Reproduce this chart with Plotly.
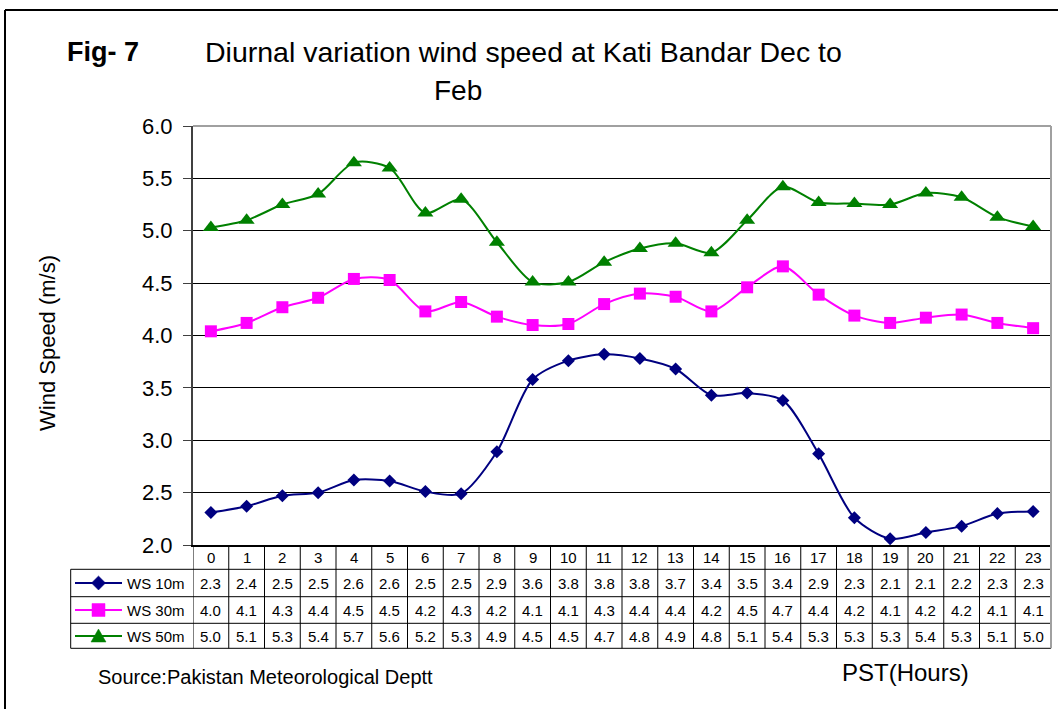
import plotly.graph_objects as go

# ---------------- data ----------------
hours = list(range(24))
hour_labels = [str(h) for h in hours]
series_names = ["WS 10m", "WS 30m", "WS 50m"]
ws10 = [2.31, 2.37, 2.47, 2.50, 2.62, 2.61, 2.51, 2.49, 2.89, 3.58, 3.76, 3.82,
        3.78, 3.68, 3.43, 3.45, 3.38, 2.87, 2.26, 2.06, 2.12, 2.18, 2.30, 2.32]
ws30 = [4.04, 4.12, 4.27, 4.36, 4.54, 4.53, 4.23, 4.32, 4.18, 4.10, 4.11, 4.30,
        4.40, 4.37, 4.23, 4.46, 4.66, 4.39, 4.19, 4.12, 4.17, 4.20, 4.12, 4.07]
ws50 = [5.03, 5.10, 5.25, 5.35, 5.65, 5.60, 5.17, 5.30, 4.89, 4.51, 4.51, 4.70,
        4.83, 4.88, 4.79, 5.10, 5.42, 5.27, 5.26, 5.25, 5.36, 5.32, 5.13, 5.04]
table10 = [2.3, 2.4, 2.5, 2.5, 2.6, 2.6, 2.5, 2.5, 2.9, 3.6, 3.8, 3.8,
           3.8, 3.7, 3.4, 3.5, 3.4, 2.9, 2.3, 2.1, 2.1, 2.2, 2.3, 2.3]
table30 = [4.0, 4.1, 4.3, 4.4, 4.5, 4.5, 4.2, 4.3, 4.2, 4.1, 4.1, 4.3,
           4.4, 4.4, 4.2, 4.5, 4.7, 4.4, 4.2, 4.1, 4.2, 4.2, 4.1, 4.1]
table50 = [5.0, 5.1, 5.3, 5.4, 5.7, 5.6, 5.2, 5.3, 4.9, 4.5, 4.5, 4.7,
           4.8, 4.9, 4.8, 5.1, 5.4, 5.3, 5.3, 5.3, 5.4, 5.3, 5.1, 5.0]
y_ticks = [2.0, 2.5, 3.0, 3.5, 4.0, 4.5, 5.0, 5.5, 6.0]

title_fig = "Fig- 7"
title_main = "Diurnal variation wind speed at Kati Bandar Dec to"
title_line2 = "Feb"
y_title = "Wind Speed (m/s)"
x_title = "PST(Hours)"
source_text = "Source:Pakistan Meteorological Deptt"

# ---------------- styling / layout ----------------
W, H = 1058, 709
L, R, T, B = 193, 1051, 126, 545
PW, PH = R - L, B - T
FONT = "Liberation Sans, Arial, sans-serif"

colors = ["#000080", "#FF00FF", "#008000"]
symbols = ["diamond", "square", "triangle-up"]
msizes = [10, 12, 14]
values = [ws10, ws30, ws50]
tables = [table10, table30, table50]


def pxx(px):
    return (px - L) / PW


def pxy(py):
    return (B - py) / PH


fig = go.Figure()

for name, vals, c, s, ms in zip(series_names, values, colors, symbols, msizes):
    fig.add_trace(go.Scatter(
        x=hours, y=vals, name=name, mode="lines+markers",
        line=dict(color=c, width=2, shape="spline", smoothing=0.8),
        marker=dict(symbol=s, size=ms, color=c),
        showlegend=False, cliponaxis=False,
    ))

# table geometry (pixels)
row_lines = [569.3, 596.7, 623.3, 648.3]
row_centers = [583, 610, 636]
leg_left = 70.7

shapes = []
line_blk = dict(color="#000000", width=1)
for i in range(24):
    shapes.append(dict(type="line", xref="x", yref="paper",
                       x0=i - 0.5, x1=i - 0.5, y0=pxy(B), y1=pxy(row_lines[-1]),
                       line=line_blk))
for yl in row_lines:
    shapes.append(dict(type="line", xref="paper", yref="paper",
                       x0=pxx(leg_left), x1=pxx(R), y0=pxy(yl), y1=pxy(yl),
                       line=line_blk))
shapes.append(dict(type="line", xref="paper", yref="paper",
                   x0=pxx(leg_left), x1=pxx(leg_left),
                   y0=pxy(row_lines[0]), y1=pxy(row_lines[-1]), line=line_blk))
# plot area gray border (top & right)
shapes.append(dict(type="line", xref="paper", yref="paper",
                   x0=pxx(L), x1=pxx(R), y0=1, y1=1,
                   line=dict(color="#a0a0a0", width=2)))
shapes.append(dict(type="line", xref="paper", yref="paper",
                   x0=1, x1=1, y0=1, y1=pxy(row_lines[-1]),
                   line=dict(color="#a0a0a0", width=2)))
# outer frame (top and left visible)
shapes.append(dict(type="line", xref="paper", yref="paper",
                   x0=pxx(5), x1=pxx(W + 10), y0=pxy(10), y1=pxy(10),
                   line=dict(color="#000000", width=2)))
shapes.append(dict(type="line", xref="paper", yref="paper",
                   x0=pxx(5), x1=pxx(5), y0=pxy(10), y1=pxy(H + 10),
                   line=dict(color="#000000", width=2)))


def poly_path(pts):
    return "M " + " L ".join(f"{pxx(a):.5f},{pxy(b):.5f}" for a, b in pts) + " Z"


# legend samples: line + marker glyph
mx = 98.5
for c, s, yc in zip(colors, symbols, row_centers):
    shapes.append(dict(type="line", xref="paper", yref="paper",
                       x0=pxx(75), x1=pxx(122), y0=pxy(yc), y1=pxy(yc),
                       line=dict(color=c, width=2)))
    if s == "diamond":
        pts = [(mx, yc - 7), (mx + 7, yc), (mx, yc + 7), (mx - 7, yc)]
    elif s == "square":
        pts = [(mx - 6.5, yc - 6.5), (mx + 6.5, yc - 6.5),
               (mx + 6.5, yc + 6.5), (mx - 6.5, yc + 6.5)]
    else:
        pts = [(mx, yc - 7), (mx + 7.5, yc + 6), (mx - 7.5, yc + 6)]
    shapes.append(dict(type="path", xref="paper", yref="paper",
                       path=poly_path(pts), fillcolor=c,
                       line=dict(color=c, width=0.5)))

ann = []
for h, lab in zip(hours, hour_labels):
    ann.append(dict(x=h, y=pxy(557), xref="x", yref="paper", text=lab,
                    showarrow=False, font=dict(size=15, color="#000"),
                    xanchor="center", yanchor="middle"))
for tab, yc in zip(tables, row_centers):
    for h, v in zip(hours, tab):
        ann.append(dict(x=h, y=pxy(yc), xref="x", yref="paper", text=f"{v:.1f}",
                        showarrow=False, font=dict(size=15, color="#000"),
                        xanchor="center", yanchor="middle"))
for name, yc in zip(series_names, row_centers):
    ann.append(dict(x=pxx(125), y=pxy(yc), xref="paper", yref="paper", text=name,
                    showarrow=False, font=dict(size=15, color="#000"),
                    xanchor="left", yanchor="middle"))
ann.append(dict(x=pxx(65), y=pxy(52), xref="paper", yref="paper",
                text=f"<b>{title_fig}</b>", showarrow=False,
                font=dict(size=27, color="#000"), xanchor="left", yanchor="middle"))
ann.append(dict(x=pxx(523), y=pxy(52), xref="paper", yref="paper",
                text=title_main, showarrow=False,
                font=dict(size=28.5, color="#000"), xanchor="center", yanchor="middle"))
ann.append(dict(x=pxx(458), y=pxy(90), xref="paper", yref="paper",
                text=title_line2, showarrow=False,
                font=dict(size=28, color="#000"), xanchor="center", yanchor="middle"))
ann.append(dict(x=pxx(47), y=pxy(343), xref="paper", yref="paper",
                text=y_title, showarrow=False, textangle=-90,
                font=dict(size=22, color="#000"), xanchor="center", yanchor="middle"))
ann.append(dict(x=pxx(96), y=pxy(677), xref="paper", yref="paper",
                text=source_text, showarrow=False,
                font=dict(size=20, color="#000"), xanchor="left", yanchor="middle"))
ann.append(dict(x=pxx(905), y=pxy(672), xref="paper", yref="paper",
                text=x_title, showarrow=False,
                font=dict(size=24, color="#000"), xanchor="center", yanchor="middle"))

fig.update_layout(
    width=W, height=H,
    margin=dict(l=L, r=W - R, t=T, b=H - B, pad=0),
    paper_bgcolor="white", plot_bgcolor="white",
    font=dict(family=FONT, color="#000"),
    shapes=shapes, annotations=ann,
    xaxis=dict(range=[-0.5, 23.5], showgrid=False, zeroline=False,
               showticklabels=False, ticks="", showline=True,
               linecolor="#000000", linewidth=2, fixedrange=True),
    yaxis=dict(range=[2, 6], tickvals=y_ticks, tickformat=".1f",
               showgrid=True, gridcolor="#000000", gridwidth=1,
               zeroline=False, showline=True, linecolor="#404040", linewidth=2,
               ticks="outside", ticklen=8, tickcolor="#404040", tickwidth=1,
               tickfont=dict(size=22, color="#000"), ticklabelstandoff=6,
               fixedrange=True),
)

fig.write_html(
    "out.html",
    config={"displayModeBar": False},
    post_script="document.body.style.margin='0';document.body.style.padding='0';"
                "document.body.style.overflow='hidden';",
)
